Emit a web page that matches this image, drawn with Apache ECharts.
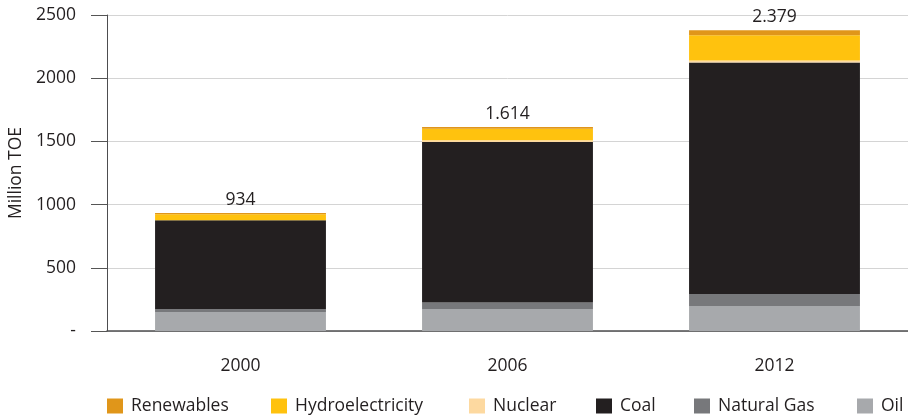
<html>
<head>
  <meta charset="utf-8">
  <title>Million TOE</title>
  <script src="https://cdn.jsdelivr.net/npm/echarts@6/dist/echarts.min.js"></script>
  <style>
    body { margin: 0; background: #fff; }
    #chart { width: 908px; height: 415px; }
  </style>
</head>
<body>
  <div id="chart"></div>
  <script>
    // data (Million TOE)
    var years = ['2000', '2006', '2012'];
    var oil = [150, 175, 198];
    var naturalGas = [22, 50, 95];
    var coal = [704, 1270, 1832];
    var nuclear = [0, 14, 16];
    var hydro = [48, 92, 198];
    var renewables = [10, 13, 40];
    var totalLabels = ['934', '1.614', '2.379'];
    var yTicks = [0, 500, 1000, 1500, 2000, 2500];

    var font = 'Open Sans';
    var fs = 17.5;
    var names = ['Renewables', 'Hydroelectricity', 'Nuclear', 'Coal', 'Natural Gas', 'Oil'];
    var colors = {
      'Oil': '#a7a9ac',
      'Natural Gas': '#77787b',
      'Coal': '#231f20',
      'Nuclear': '#fdd9a0',
      'Hydroelectricity': '#ffc20e',
      'Renewables': '#e0961a'
    };
    var legendLeft = [107, 271, 469, 596, 694, 857];

    function bar(name, data) {
      return {
        name: name,
        type: 'bar',
        stack: 'total',
        barCategoryGap: '36%',
        data: data,
        itemStyle: { color: colors[name] },
        emphasis: { disabled: true }
      };
    }

    var series = [
      bar('Oil', oil),
      bar('Natural Gas', naturalGas),
      bar('Coal', coal),
      bar('Nuclear', nuclear),
      bar('Hydroelectricity', hydro),
      bar('Renewables', renewables)
    ];
    series[5].label = {
      show: true,
      position: 'top',
      distance: 4,
      color: '#231f20',
      fontFamily: font,
      fontSize: fs,
      formatter: function (p) { return totalLabels[p.dataIndex]; }
    };

    var legends = [];
    for (var i = 0; i < names.length; i++) {
      legends.push({
        data: [names[i]],
        left: legendLeft[i],
        top: 397,
        padding: 0,
        icon: 'rect',
        itemWidth: 16,
        itemHeight: 15,
        itemGap: 0,
        selectedMode: false,
        textStyle: { fontFamily: font, fontSize: fs, color: '#231f20', padding: [0, 0, 0, 3] }
      });
    }

    var chart = echarts.init(document.getElementById('chart'));
    chart.setOption({
      animation: false,
      grid: { left: 107, right: 0, top: 15, bottom: 84, outerBoundsMode: 'none', containLabel: false },
      legend: legends,
      xAxis: {
        type: 'category',
        data: years,
        axisLine: { lineStyle: { color: '#4d4d4f', width: 1.5 } },
        axisTick: { length: 19, lineStyle: { color: '#4d4d4f' } },
        axisLabel: { margin: 26, fontFamily: font, fontSize: fs, color: '#231f20' }
      },
      yAxis: {
        type: 'value',
        min: yTicks[0],
        max: yTicks[yTicks.length - 1],
        interval: 500,
        name: 'Million TOE',
        nameLocation: 'middle',
        nameRotate: 90,
        nameGap: 82,
        nameTextStyle: { fontFamily: font, fontSize: fs, color: '#231f20' },
        axisLine: { show: true, lineStyle: { color: '#4d4d4f' } },
        axisTick: { show: true, inside: false, length: 16, lineStyle: { color: '#555555', width: 1 } },
        splitLine: { lineStyle: { color: '#d4d4d4' } },
        axisLabel: {
          margin: 31,
          fontFamily: font,
          fontSize: fs,
          color: '#231f20',
          formatter: function (v) { return v === 0 ? '-' : String(v); }
        }
      },
      series: series
    });
  </script>
</body>
</html>
